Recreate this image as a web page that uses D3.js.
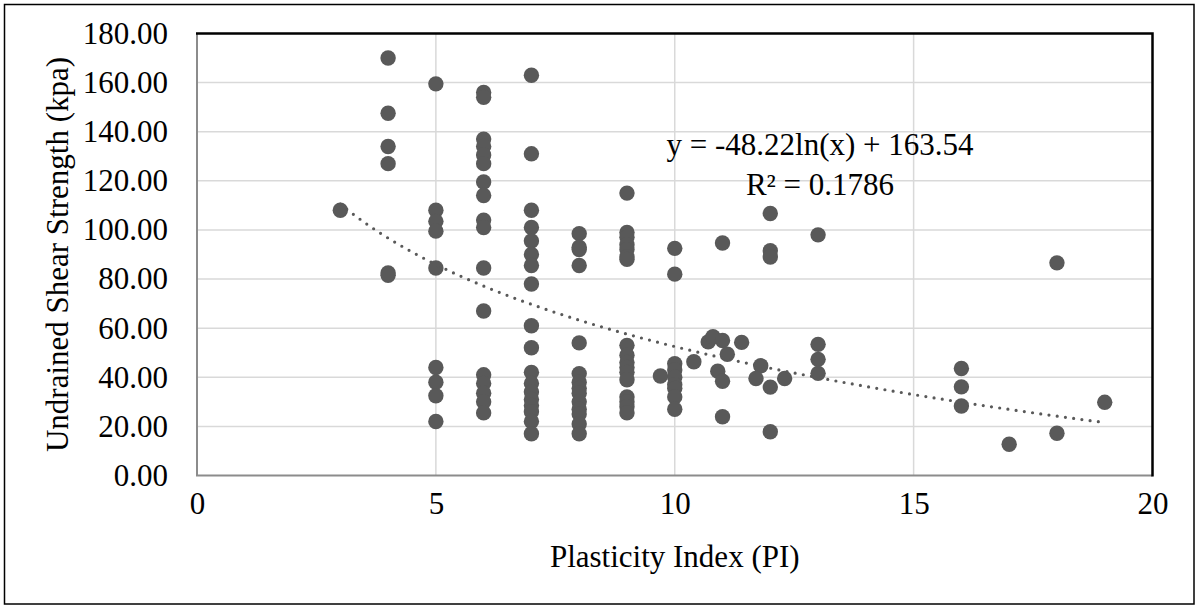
<!DOCTYPE html>
<html>
<head>
<meta charset="utf-8">
<script src="https://cdn.jsdelivr.net/npm/d3@7"></script>
<style>
  body { margin: 0; background: #fff; }
  text { font-family: "Liberation Serif", "Times New Roman", serif; fill: #000; }
</style>
</head>
<body>
<script>
/* CONSTANTS AND GLOBALS */
const width = 1199;
const height = 608;
const margin = { top: 33.5, bottom: 132.5, left: 197, right: 46.5 };

/* DATA */
// plasticity index of each sample
const piValues = [
  3,
  4, 4, 4, 4, 4, 4,
  5, 5, 5, 5, 5, 5, 5, 5, 5,
  6, 6, 6, 6, 6, 6, 6, 6, 6, 6, 6, 6, 6, 6, 6, 6, 6,
  7, 7, 7, 7, 7, 7, 7, 7, 7, 7, 7, 7, 7, 7, 7, 7, 7, 7,
  8, 8, 8, 8, 8, 8, 8, 8, 8, 8, 8, 8, 8, 8,
  9, 9, 9, 9, 9, 9, 9, 9, 9, 9, 9, 9, 9, 9, 9, 9, 9,
  9.7,
  10, 10, 10, 10, 10, 10, 10, 10, 10,
  10.4, 10.7, 10.8, 11, 11.1, 10.9, 11, 11, 11, 11.4,
  11.8, 11.7, 12, 12, 12, 12, 12, 12.3,
  13, 13, 13, 13,
  16, 16, 16, 17, 18, 18, 19
];
// undrained shear strength (kpa), same order as piValues
const strengthValues = [
  108,
  170, 147.5, 134, 127, 82.5, 81.5,
  159.5, 108, 103.5, 99.5, 84.5, 44, 38, 32.5, 22,
  156, 154, 137, 134, 130.5, 127, 119.5, 114, 104, 101, 84.5, 67, 41, 37.5, 33.5, 30, 25.5,
  163, 131, 108, 101, 95.5, 90, 85.5, 78, 61, 52, 42, 37.5, 34, 31, 28.5, 26, 22, 17,
  98.5, 93, 92, 85.5, 54, 41.5, 38, 35.5, 33.5, 30, 27, 25, 21, 17,
  115, 99, 97, 94, 92, 89, 88, 53, 49, 46, 44, 42, 39, 32, 30, 28, 25.5,
  40.5,
  92.5, 82, 45.5, 43, 40, 37, 35.5, 32, 27,
  46.3, 54.4, 56.5, 55, 49.4, 42.5, 38.4, 23.9, 94.7, 54.2,
  44.7, 39.5, 106.7, 91.5, 89, 36, 17.8, 39.5,
  98, 53.4, 47.3, 41.6,
  43.6, 36.1, 28.3, 12.7, 86.6, 17.2, 29.8
];
const xTicks = [0, 5, 10, 15, 20];
const yTicks = [0, 20, 40, 60, 80, 100, 120, 140, 160, 180];
// log trendline y = a*ln(x) + b
const trendA = -48.22;
const trendB = 163.54;
const trendRange = [3, 19];
const equationLines = ["y = -48.22ln(x) + 163.54", "R² = 0.1786"];

const data = piValues.map((p, i) => ({ pi: p, su: strengthValues[i] }));

//CREATE SVG
const svg = d3.select("body").append("svg")
  .attr("width", width)
  .attr("height", height);

svg.append("rect")
  .attr("x", 4.5).attr("y", 4.5)
  .attr("width", width - 9.5).attr("height", height - 8.5)
  .attr("fill", "#fff")
  .attr("stroke", "#000")
  .attr("stroke-width", 1.5);

//SCALES
const x = d3.scaleLinear()
  .domain([0, 20])
  .range([margin.left, width - margin.right]);

const y = d3.scaleLinear()
  .domain([0, 180])
  .range([height - margin.bottom, margin.top]);

//GRIDLINES
svg.append("g")
  .selectAll("line")
  .data(yTicks.slice(1, -1))
  .join("line")
  .attr("x1", x(0)).attr("x2", x(20))
  .attr("y1", d => y(d)).attr("y2", d => y(d))
  .attr("stroke", "#d9d9d9")
  .attr("stroke-width", 1.5);

svg.append("g")
  .selectAll("line")
  .data(xTicks.slice(1, -1))
  .join("line")
  .attr("x1", d => x(d)).attr("x2", d => x(d))
  .attr("y1", y(0)).attr("y2", y(180))
  .attr("stroke", "#d9d9d9")
  .attr("stroke-width", 1.5);

//PLOT BORDER - gray left/bottom, black top/right
svg.append("path")
  .attr("d", `M${x(0)},${y(180)}V${y(0)}H${x(20)}`)
  .attr("fill", "none")
  .attr("stroke", "#8c8c8c")
  .attr("stroke-width", 2);
svg.append("path")
  .attr("d", `M${x(0) - 1},${y(180)}H${x(20)}V${y(0) + 1}`)
  .attr("fill", "none")
  .attr("stroke", "#000")
  .attr("stroke-width", 2.5);

//AXES (labels only)
const yAxis = d3.axisLeft(y).tickValues(yTicks).tickFormat(d3.format(".2f")).tickSize(0).tickPadding(29);
const xAxis = d3.axisBottom(x).tickValues(xTicks).tickFormat(d3.format("d")).tickSize(0).tickPadding(16);

svg.append("g")
  .attr("transform", `translate(${x(0)},0)`)
  .call(yAxis)
  .call(g => g.select(".domain").remove())
  .selectAll("text")
  .attr("font-family", '"Liberation Serif", serif')
  .attr("font-size", 31)
  .attr("fill", "#000");

svg.append("g")
  .attr("transform", `translate(0,${y(0)})`)
  .call(xAxis)
  .call(g => g.select(".domain").remove())
  .selectAll("text")
  .attr("font-family", '"Liberation Serif", serif')
  .attr("font-size", 31)
  .attr("fill", "#000");

//AXIS TITLES
svg.append("text")
  .attr("x", (x(0) + x(20)) / 2)
  .attr("y", 567)
  .attr("text-anchor", "middle")
  .attr("font-size", 31)
  .text("Plasticity Index (PI)");

svg.append("text")
  .attr("transform", `translate(68,${(y(0) + y(180)) / 2}) rotate(-90)`)
  .attr("text-anchor", "middle")
  .attr("font-size", 31)
  .text("Undrained Shear Strength (kpa)");

//POINTS
svg.append("g")
  .selectAll("circle")
  .data(data)
  .join("circle")
  .attr("cx", d => x(d.pi))
  .attr("cy", d => y(d.su))
  .attr("r", 7.7)
  .attr("fill", "#595959");

//TRENDLINE
const trendData = d3.range(trendRange[0], trendRange[1] + 0.001, 0.1)
  .map(p => ({ pi: p, su: trendA * Math.log(p) + trendB }));

svg.append("path")
  .datum(trendData)
  .attr("fill", "none")
  .attr("stroke", "#595959")
  .attr("stroke-width", 3.2)
  .attr("stroke-linecap", "round")
  .attr("stroke-dasharray", "0 8.3")
  .attr("d", d3.line().x(d => x(d.pi)).y(d => y(d.su)));

//EQUATION LABEL
svg.append("text")
  .attr("x", 820)
  .attr("y", 155)
  .attr("text-anchor", "middle")
  .attr("font-size", 31)
  .selectAll("tspan")
  .data(equationLines)
  .join("tspan")
  .attr("x", 820)
  .attr("dy", (d, i) => i === 0 ? 0 : 40)
  .text(d => d);
</script>
</body>
</html>
